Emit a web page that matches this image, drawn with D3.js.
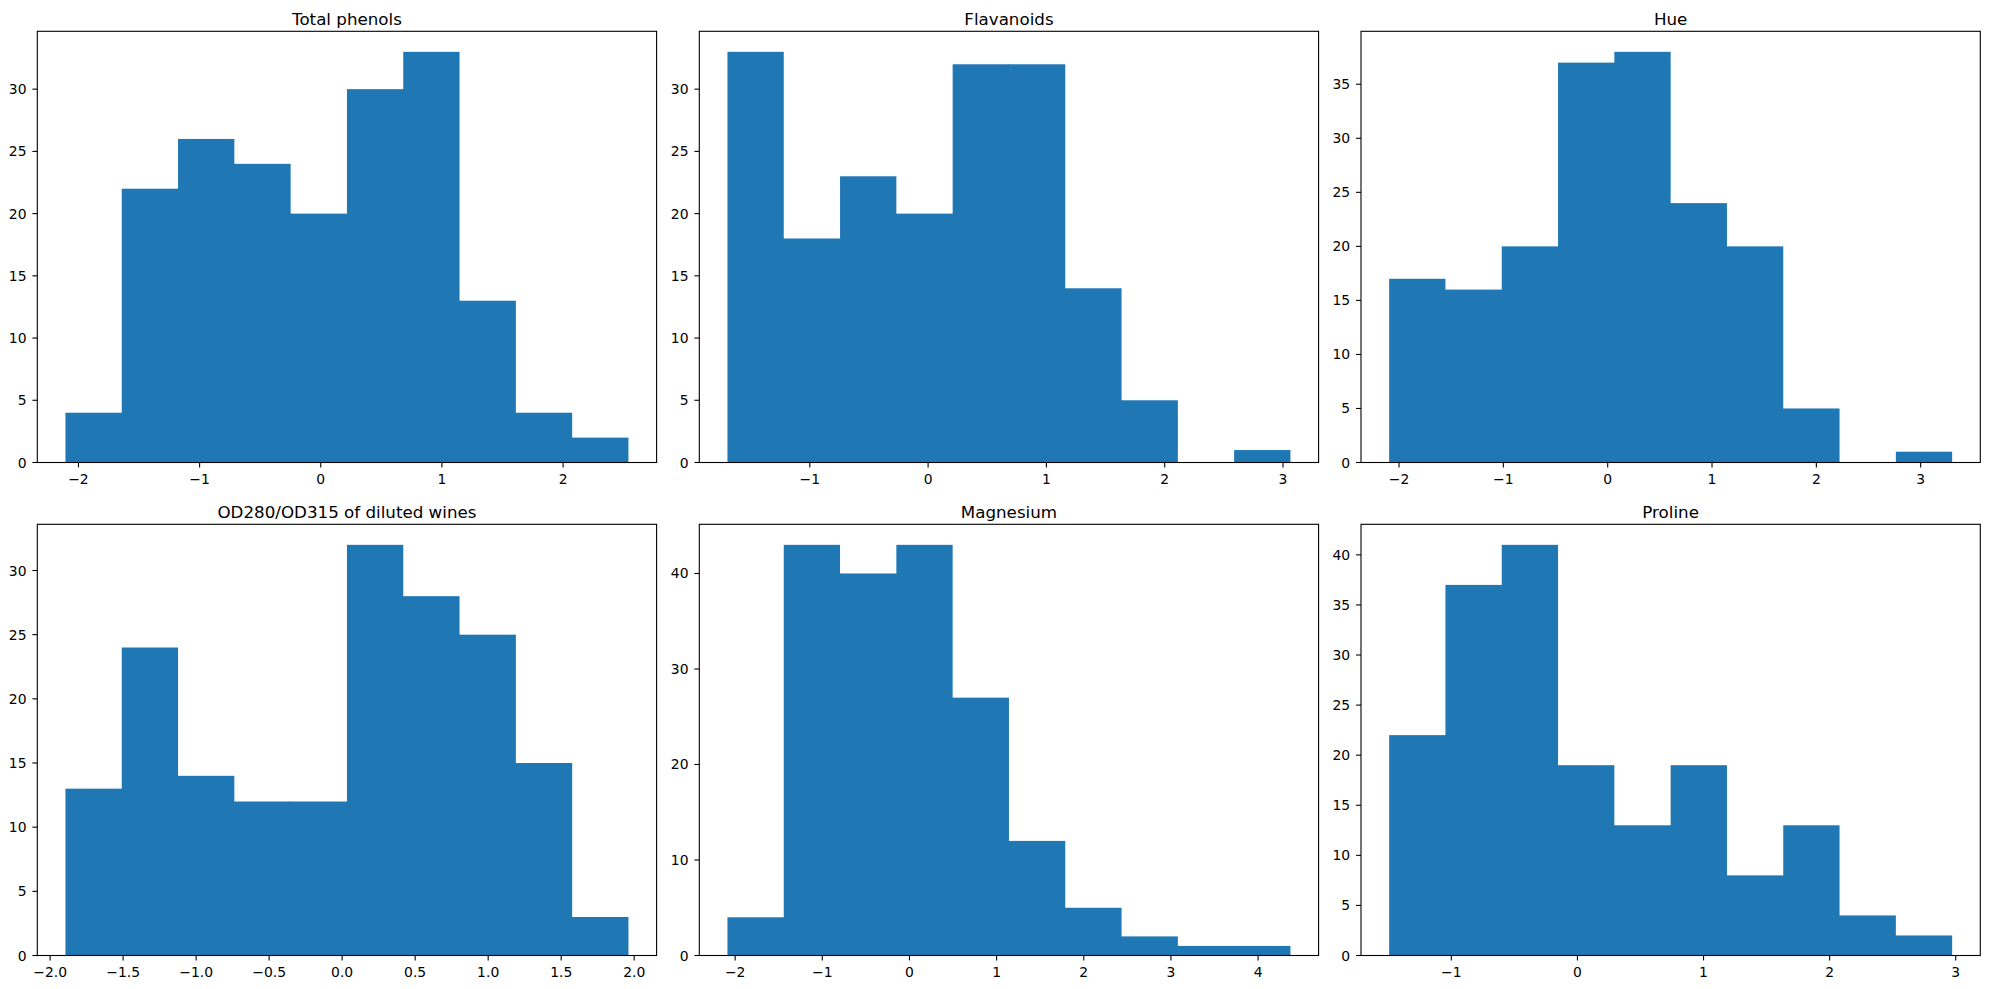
<!DOCTYPE html>
<html>
<head>
<meta charset="utf-8">
<script src="https://cdn.jsdelivr.net/npm/d3@7"></script>
<style>
  html, body { margin: 0; padding: 0; background: #fff; }
  text { font-family: "DejaVu Sans", sans-serif; fill: #000; }
</style>
</head>
<body>
<svg id="chart" width="1989" height="989"></svg>
<script>
// ---- data (standardized wine features, 10-bin histograms) ----
const titles = ["Total phenols", "Flavanoids", "Hue", "OD280/OD315 of diluted wines", "Magnesium", "Proline"];
const dataMin = [-2.1073, -1.6960, -2.0947, -1.8950, -2.0883, -1.4932];
const dataMax = [2.5396, 3.0629, 3.3017, 1.9607, 4.3713, 2.9715];
const totalPhenols = [4, 22, 26, 24, 20, 30, 33, 13, 4, 2];
const flavanoids   = [33, 18, 23, 20, 32, 32, 14, 5, 0, 1];
const hue          = [17, 16, 20, 37, 38, 24, 20, 5, 0, 1];
const od280        = [13, 24, 14, 12, 12, 32, 28, 25, 15, 3];
const magnesium    = [4, 43, 40, 43, 27, 12, 5, 2, 1, 1];
const proline      = [22, 37, 41, 19, 13, 19, 8, 13, 4, 2];
const counts = [totalPhenols, flavanoids, hue, od280, magnesium, proline];
const xTicks = [
  [-2, -1, 0, 1, 2],
  [-1, 0, 1, 2, 3],
  [-2, -1, 0, 1, 2, 3],
  [-2.0, -1.5, -1.0, -0.5, 0.0, 0.5, 1.0, 1.5, 2.0],
  [-2, -1, 0, 1, 2, 3, 4],
  [-1, 0, 1, 2, 3]
];
const yTicks = [
  [0, 5, 10, 15, 20, 25, 30],
  [0, 5, 10, 15, 20, 25, 30],
  [0, 5, 10, 15, 20, 25, 30, 35],
  [0, 5, 10, 15, 20, 25, 30],
  [0, 10, 20, 30, 40],
  [0, 5, 10, 15, 20, 25, 30, 35, 40]
];
const xFormats = [",d", ",d", ",d", ".1f", ",d", ",d"];

// ---- layout ----
const colLeft = [37.3, 699.3, 1361];
const rowTop = [31.3, 524.3];
const pw = 619.3, ph = 431.2;
const color = "#1f77b4";
const tickLen = 4.9;
const minus = s => s.replace(/-/g, "\u2212");

const svg = d3.select("#chart");

titles.forEach((title, i) => {
  const r = Math.floor(i / 3), c = i % 3;
  const x0 = colLeft[c], y0 = rowTop[r];
  const g = svg.append("g").attr("transform", `translate(${x0},${y0})`);

  const lo = dataMin[i], hi = dataMax[i];
  const span = hi - lo;
  const x = d3.scaleLinear().domain([lo - 0.05 * span, hi + 0.05 * span]).range([0, pw]);
  const yMax = d3.max(counts[i]) * 1.05;
  const y = d3.scaleLinear().domain([0, yMax]).range([ph, 0]);

  const cs = counts[i];
  const nb = cs.length;
  const edges = d3.range(nb + 1).map(k => lo + span * k / nb);
  // shorter bars tuck 1px under their taller neighbours to hide anti-aliasing seams
  const bins = cs.map((v, k) => ({
    x0: edges[k], x1: edges[k + 1], v,
    extL: (k > 0 && cs[k - 1] >= v) ? 1 : 0,
    extR: (k < nb - 1 && cs[k + 1] > v) ? 1 : 0
  }));

  g.selectAll("rect.bar").data(bins).enter().append("rect")
    .attr("class", "bar")
    .attr("x", d => x(d.x0) - d.extL)
    .attr("width", d => x(d.x1) - x(d.x0) + d.extL + d.extR)
    .attr("y", d => y(d.v))
    .attr("height", d => ph - y(d.v))
    .attr("fill", color);

  // spines
  g.append("rect").attr("x", 0).attr("y", 0).attr("width", pw).attr("height", ph)
    .attr("fill", "none").attr("stroke", "#000").attr("stroke-width", 1.1);

  // x ticks
  const fmt = d3.format(xFormats[i]);
  const xt = g.selectAll("g.xt").data(xTicks[i]).enter().append("g")
    .attr("transform", d => `translate(${x(d)},${ph})`);
  xt.append("line").attr("y1", 0).attr("y2", tickLen).attr("stroke", "#000").attr("stroke-width", 1.1);
  xt.append("text").attr("y", 21.3).attr("text-anchor", "middle")
    .style("font-size", "13.9px").text(d => minus(fmt(d)));

  // y ticks
  const yt = g.selectAll("g.yt").data(yTicks[i]).enter().append("g")
    .attr("transform", d => `translate(0,${y(d)})`);
  yt.append("line").attr("x1", 0).attr("x2", -tickLen).attr("stroke", "#000").attr("stroke-width", 1.1);
  yt.append("text").attr("x", -10.8).attr("y", 5).attr("text-anchor", "end")
    .style("font-size", "13.9px").text(d => d3.format("d")(d));

  // title
  g.append("text").attr("x", pw / 2).attr("y", -6.5).attr("text-anchor", "middle")
    .style("font-size", "16.7px").text(title);
});
</script>
</body>
</html>
